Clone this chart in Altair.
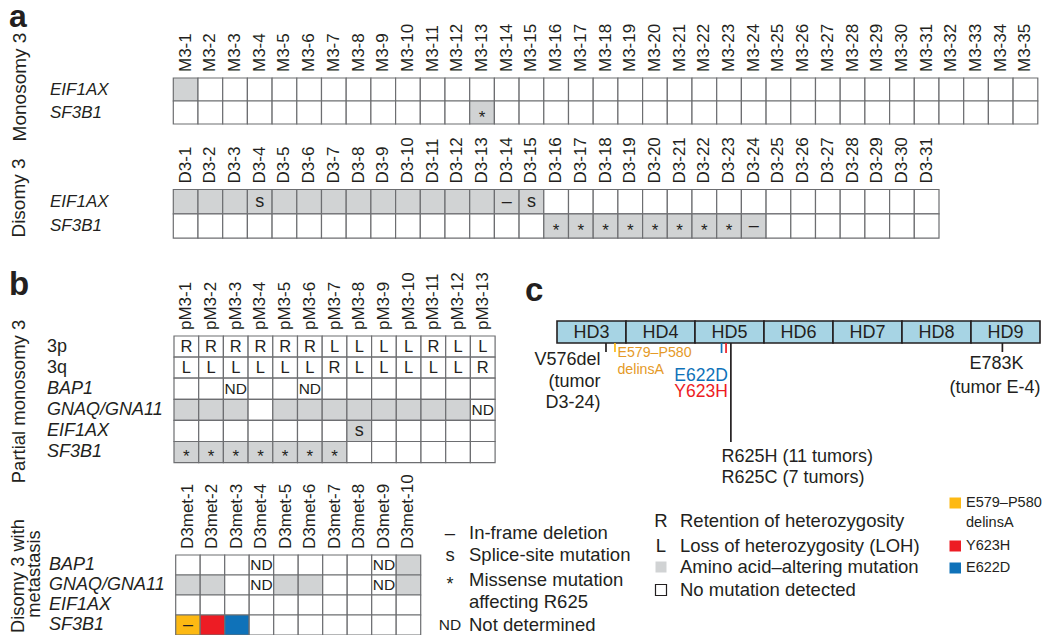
import altair as alt
import pandas as pd

# ---------------- data ----------------
mono_samples = [f"M3-{i}" for i in range(1, 36)]
mono_rows = ["EIF1AX", "SF3B1"]
mono_cells = {
    "EIF1AX": ["g"] + [""] * 34,
    "SF3B1": [""] * 12 + ["g*"] + [""] * 22,
}

di_samples = [f"D3-{i}" for i in range(1, 32)]
di_rows = ["EIF1AX", "SF3B1"]
di_cells = {
    "EIF1AX": ["g", "g", "g", "gs", "g", "g", "g", "g", "g", "g", "g", "g", "g", "g–", "gs"] + [""] * 16,
    "SF3B1": [""] * 15 + ["g*"] * 8 + ["g–"] + [""] * 7,
}

pm_samples = [f"pM3-{i}" for i in range(1, 14)]
pm_rows = ["3p", "3q", "BAP1", "GNAQ/GNA11", "EIF1AX", "SF3B1"]
pm_cells = {
    "3p": ["R", "R", "R", "R", "R", "R", "L", "L", "L", "L", "R", "L", "L"],
    "3q": ["L", "L", "L", "L", "L", "L", "R", "L", "L", "L", "L", "L", "R"],
    "BAP1": ["", "", "ND", "", "", "ND", "", "", "", "", "", "", ""],
    "GNAQ/GNA11": ["g", "g", "g", "", "g", "g", "g", "g", "g", "g", "g", "g", "ND"],
    "EIF1AX": [""] * 7 + ["gs"] + [""] * 5,
    "SF3B1": ["g*"] * 7 + [""] * 6,
}

met_samples = [f"D3met-{i}" for i in range(1, 11)]
met_rows = ["BAP1", "GNAQ/GNA11", "EIF1AX", "SF3B1"]
met_cells = {
    "BAP1": ["", "", "", "ND", "", "", "", "", "ND", "g"],
    "GNAQ/GNA11": ["g", "g", "", "ND", "g", "g", "", "", "ND", "g"],
    "EIF1AX": [""] * 10,
    "SF3B1": ["y–", "r", "b"] + [""] * 7,
}

group_titles = ["Monosomy 3", "Disomy 3", "Partial monosomy 3", "Disomy 3 with", "metastasis"]
panel_letters = ["a", "b", "c"]

domains = ["HD3", "HD4", "HD5", "HD6", "HD7", "HD8", "HD9"]
mutations = ["V576del", "E579–P580", "E622D", "Y623H", "R625", "E783K"]
mut_pos = [0.71, 0.84, 2.385, 2.45, 2.52, 6.455]   # along the schematic, in domain widths

legend1_symbols = ["–", "s", "*", "ND"]
legend1_lines = ["In-frame deletion", "Splice-site mutation", "Missense mutation", "affecting R625", "Not determined"]
legend2_symbols = ["R", "L"]
legend2_lines = ["Retention of heterozygosity", "Loss of heterozygosity (LOH)",
                 "Amino acid–altering mutation", "No mutation detected"]
legend3_lines = ["E579–P580", "delinsA", "Y623H", "E622D"]

# ---------------- styles / layout ----------------
FONT = "Liberation Sans"
INK = "#231f20"
GRAY = "#d1d3d4"
YEL, RED, BLUE = "#fdb913", "#ed1c24", "#0f72b9"
FILL = {"": "#ffffff", "g": GRAY, "y": YEL, "r": RED, "b": BLUE}
SYM_SIZE = {"*": 17, "s": 18, "–": 18, "ND": 15.5, "R": 16.5, "L": 16.5}
MUT_COLOR = {"V576del": INK, "E579–P580": YEL, "E622D": BLUE, "Y623H": RED, "R625": INK, "E783K": INK}
MUT_LEN = {"V576del": 9, "E579–P580": 9, "E622D": 10, "Y623H": 10, "R625": 99, "E783K": 9}

grids = [
    dict(samples=mono_samples, rows=mono_rows, cells=mono_cells, x0=173.3, cw=24.7, top=78.0, rh=23.0, lx=50, ls=17),
    dict(samples=di_samples, rows=di_rows, cells=di_cells, x0=173.3, cw=24.7, top=189.5, rh=24.3, lx=50, ls=17),
    dict(samples=pm_samples, rows=pm_rows, cells=pm_cells, x0=174.0, cw=24.7, top=336.0, rh=21.1, lx=47, ls=18),
    dict(samples=met_samples, rows=met_rows, cells=met_cells, x0=175.7, cw=24.5, top=555.0, rh=20.0, lx=49, ls=18),
]

cells, syms, stars, cols, rows_it, rows_nm = [], [], [], [], [], []
for g in grids:
    for j, s in enumerate(g["samples"]):
        cols.append(dict(x=g["x0"] + (j + 0.5) * g["cw"], y=g["top"] - 6, t=s, s=17, c=INK))
    for i, r in enumerate(g["rows"]):
        y0 = g["top"] + i * g["rh"]
        rec = dict(x=g["lx"], y=y0 + g["rh"] / 2, t=r, s=g["ls"], c=INK)
        (rows_nm if r in ("3p", "3q") else rows_it).append(rec)
        for j, code in enumerate(g["cells"][r]):
            x0 = g["x0"] + j * g["cw"]
            if code[:1] in ("g", "y", "r", "b"):
                fill, sym = FILL[code[0]], code[1:]
            else:
                fill, sym = FILL[""], code
            cells.append(dict(x=x0, x2=x0 + g["cw"], y=y0, y2=y0 + g["rh"], c=fill))
            if sym:
                rec = dict(x=x0 + g["cw"] / 2, y=y0 + g["rh"] / 2, t=sym, s=SYM_SIZE[sym], c=INK)
                (stars if sym == "*" else syms).append(rec)

titles = pd.DataFrame(dict(x=[19.5, 19.0, 19.0, 19.0, 34.5], y=[87, 198, 401.5, 576, 574],
                           t=group_titles, s=[19, 19, 18.5, 18.3, 18.3], c=INK))
letters = pd.DataFrame(dict(x=[9, 9, 525], y=[26.5, 295, 301], t=panel_letters, s=[32, 33, 33], c=INK))

# panel c schematic
BAR_X0, DOM_W, BAR_Y0, BAR_Y1 = 557.0, 69.0, 321.0, 343.0
mx = {m: BAR_X0 + p * DOM_W for m, p in zip(mutations, mut_pos)}
bar = pd.DataFrame(dict(x=[BAR_X0 + i * DOM_W for i in range(len(domains))],
                        x2=[BAR_X0 + (i + 1) * DOM_W for i in range(len(domains))],
                        y=BAR_Y0, y2=BAR_Y1))
dom_lab = pd.DataFrame(dict(x=[BAR_X0 + (i + 0.5) * DOM_W for i in range(len(domains))], y=332.5,
                            t=domains, s=18, c=INK))
ticks = pd.DataFrame(dict(x=[mx[m] for m in mutations], y=BAR_Y1,
                          y2=[BAR_Y1 + MUT_LEN[m] for m in mutations], c=[MUT_COLOR[m] for m in mutations]))
ORANGE_TXT = "#e59a27"
c_right = pd.DataFrame([
    dict(x=mx["V576del"] - 5.5, y=360.0, t="V576del", s=18, c=INK),
    dict(x=mx["V576del"] - 5.5, y=381.7, t="(tumor", s=18, c=INK),
    dict(x=mx["V576del"] - 5.5, y=403.3, t="D3-24)", s=18, c=INK),
    dict(x=mx["R625"] - 3.0, y=376.0, t="E622D", s=17.5, c=BLUE),
    dict(x=mx["R625"] - 3.0, y=392.3, t="Y623H", s=17.5, c=RED),
])
c_left = pd.DataFrame([
    dict(x=mx["E579–P580"] + 2.5, y=353.3, t="E579–P580", s=14.2, c=ORANGE_TXT),
    dict(x=mx["E579–P580"] + 2.5, y=370.0, t="delinsA", s=14.2, c=ORANGE_TXT),
    dict(x=mx["R625"] - 9.5, y=456.7, t="R625H (11 tumors)", s=18, c=INK),
    dict(x=mx["R625"] - 9.5, y=478.3, t="R625C (7 tumors)", s=18, c=INK),
])
c_center = pd.DataFrame([
    dict(x=mx["E783K"] - 6, y=364.3, t="E783K", s=18, c=INK),
    dict(x=mx["E783K"] - 7.5, y=388.3, t="(tumor E-4)", s=18, c=INK),
])

# legends
leg_txt = pd.DataFrame(
    [dict(x=469, y=yy, t=t, s=18.5, c=INK) for t, yy in zip(legend1_lines, [533, 555, 579.5, 602, 624.5])]
    + [dict(x=680, y=yy, t=t, s=18.5, c=INK) for t, yy in zip(legend2_lines, [521, 545.5, 566.5, 589.5])]
    + [dict(x=966, y=yy, t=t, s=14.5, c=INK) for t, yy in zip(legend3_lines, [503.3, 522.7, 545.5, 568])]
)
leg_sym = pd.DataFrame(
    [dict(x=450, y=yy, t=t, s=(15.5 if t == "ND" else 18.5), c=INK)
     for t, yy in zip(legend1_symbols, [533, 555, 584, 624.5]) if t != "*"]
    + [dict(x=661, y=yy, t=t, s=18.5, c=INK) for t, yy in zip(legend2_symbols, [521, 545.5])]
)
leg_star = pd.DataFrame([dict(x=450, y=584, t="*", s=18, c=INK)])
leg_sq = pd.DataFrame([
    dict(x=655.5, x2=666.5, y=561.5, y2=572.5, c=GRAY),
    dict(x=949.5, x2=961.0, y=497.5, y2=508.5, c=YEL),
    dict(x=949.5, x2=961.0, y=540.5, y2=551.5, c=RED),
    dict(x=949.5, x2=961.0, y=562.5, y2=573.5, c=BLUE),
])
leg_sq_open = pd.DataFrame([dict(x=655.5, x2=666.5, y=584.5, y2=595.5, c="#ffffff")])

# ---------------- chart ----------------
XS = alt.Scale(domain=[8, 1042], nice=False, zero=False)
YS = alt.Scale(domain=[8, 635], nice=False, zero=False, reverse=True)


def X(f="x"):
    return alt.X(f"{f}:Q", scale=XS, axis=None)


def Y(f="y"):
    return alt.Y(f"{f}:Q", scale=YS, axis=None)


def text_layer(df, align="left", angle=0, italic=False, weight="normal", dy=0, baseline="middle"):
    return alt.Chart(pd.DataFrame(df)).mark_text(
        font=FONT, align=align, baseline=baseline, angle=angle,
        fontStyle="italic" if italic else "normal", fontWeight=weight, dy=dy, clip=True
    ).encode(x=X(), y=Y(), text="t:N", size=alt.Size("s:Q", scale=None), color=alt.Color("c:N", scale=None))


def rect_layer(df, stroke=None, sw=1.2):
    kw = dict(clip=True)
    if stroke:
        kw.update(stroke=stroke, strokeWidth=sw)
    return alt.Chart(pd.DataFrame(df)).mark_rect(**kw).encode(
        x=X(), x2=alt.X2("x2"), y=Y(), y2=alt.Y2("y2"), color=alt.Color("c:N", scale=None))


layers = [
    rect_layer(cells, stroke="#6d6e71", sw=1.2),
    text_layer(syms, align="center"),
    text_layer(stars, align="center", dy=5),
    text_layer(cols, align="left", angle=270),
    text_layer(rows_it, italic=True),
    text_layer(rows_nm),
    text_layer(titles, align="center", angle=270),
    text_layer(letters, weight="bold", baseline="alphabetic"),
    alt.Chart(bar).mark_rect(fill="#a7d4e4", stroke=INK, strokeWidth=1.6, clip=True).encode(
        x=X(), x2=alt.X2("x2"), y=Y(), y2=alt.Y2("y2")),
    text_layer(dom_lab, align="center"),
    alt.Chart(ticks).mark_rule(strokeWidth=1.7, clip=True).encode(
        x=X(), y=Y(), y2=alt.Y2("y2"), color=alt.Color("c:N", scale=None)),
    text_layer(c_right, align="right"),
    text_layer(c_left, align="left"),
    text_layer(c_center, align="center"),
    text_layer(leg_txt),
    text_layer(leg_sym, align="center"),
    text_layer(leg_star, align="center", dy=1),
    rect_layer(leg_sq),
    rect_layer(leg_sq_open, stroke=INK, sw=1.2),
]

chart = alt.layer(*layers).properties(
    width=1034, height=627, padding=0,
    autosize=alt.AutoSizeParams(type="fit", contains="padding"),
    background="#ffffff",
).configure_view(stroke=None)

chart.save("out.html", embed_options={"renderer": "svg", "actions": False})
